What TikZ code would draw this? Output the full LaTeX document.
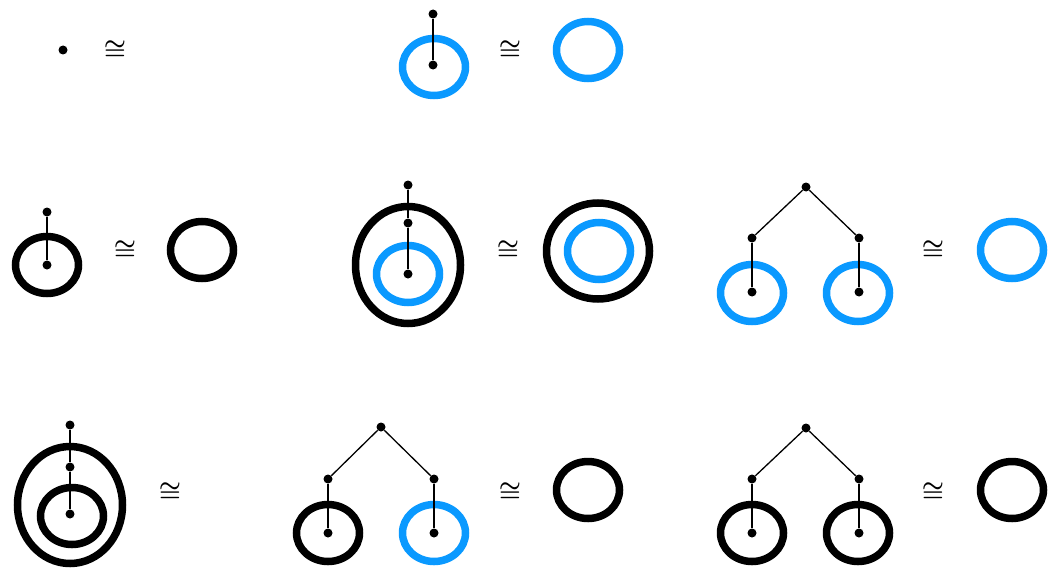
\documentclass[tikz,border=0pt]{standalone}
\usetikzlibrary{shapes.geometric}
\definecolor{Sky}{HTML}{0A99FF}
\begin{document}
\begin{tikzpicture}[x=1pt,y=-1pt,
    dot/.style={circle,fill=black,inner sep=0pt,minimum size=9pt},
    ring/.style={ellipse,draw=black,line width=7.5pt,inner sep=0pt,minimum width=63pt,minimum height=57pt},
    bigring/.style={ring,minimum width=105pt,minimum height=117pt},
    widering/.style={ring,minimum width=103pt,minimum height=96pt},
    stem/.style={line width=2pt},
    branch/.style={line width=1.3pt},
    equiv/.style={inner sep=0pt,font=\Huge\boldmath}]
  \useasboundingbox (0,0) rectangle (1051,578);
  % row 1
  \node[dot] (d1) at (63,50) {};
  \node[equiv] (e1) at (115,50) {$\cong$};
  \node[ring,draw=Sky] (r2) at (434,67) {};
  \node[dot] (t2) at (433,14) {};
  \node[dot] (c2) at (433,65) {};
  \draw[stem] (t2) -- (c2);
  \node[equiv] (e2) at (510,50) {$\cong$};
  \node[ring,draw=Sky] (s2) at (588,50) {};
  % row 2
  \node[ring] (r3) at (47,265) {};
  \node[dot] (t3) at (47,212) {};
  \node[dot] (c3) at (47,265) {};
  \draw[stem] (t3) -- (c3);
  \node[equiv] (e3) at (125,250) {$\cong$};
  \node[ring] (s3) at (202,250) {};
  \node[bigring] (o4) at (408,265) {};
  \node[ring,draw=Sky] (r4) at (408,274) {};
  \node[dot] (t4) at (408,185) {};
  \node[dot] (m4) at (408,223) {};
  \node[dot] (c4) at (408,274) {};
  \draw[stem] (t4) -- (m4) -- (c4);
  \node[equiv] (e4) at (508,250) {$\cong$};
  \node[widering] (p4) at (598,251) {};
  \node[ring,draw=Sky] (s4) at (599,251) {};
  \node[ring,draw=Sky] (la5) at (752,293) {};
  \node[ring,draw=Sky] (ra5) at (858,293) {};
  \node[dot] (t5) at (806,187) {};
  \node[dot] (l5) at (752,238) {};
  \node[dot] (r5) at (859,238) {};
  \node[dot] (lb5) at (752,292) {};
  \node[dot] (rb5) at (859,292) {};
  \draw[branch] (l5) -- (t5) -- (r5);
  \draw[stem] (l5) -- (lb5);
  \draw[stem] (r5) -- (rb5);
  \node[equiv] (e5) at (933,250) {$\cong$};
  \node[ring,draw=Sky] (s5) at (1012,250) {};
  % row 3
  \node[bigring] (o6) at (70,505) {};
  \node[ring] (r6) at (72,516) {};
  \node[dot] (t6) at (70,425) {};
  \node[dot] (m6) at (70,467) {};
  \node[dot] (c6) at (70,514) {};
  \draw[stem] (t6) -- (m6) -- (c6);
  \node[equiv] (e6) at (170,492) {$\cong$};
  \node[ring] (la7) at (328,533) {};
  \node[ring,draw=Sky] (ra7) at (434,533) {};
  \node[dot] (t7) at (381,427) {};
  \node[dot] (l7) at (328,479) {};
  \node[dot] (r7) at (434,479) {};
  \node[dot] (lb7) at (328,533) {};
  \node[dot] (rb7) at (434,533) {};
  \draw[branch] (l7) -- (t7) -- (r7);
  \draw[stem] (l7) -- (lb7);
  \draw[stem] (r7) -- (rb7);
  \node[equiv] (e7) at (510,492) {$\cong$};
  \node[ring] (s7) at (588,490) {};
  \node[ring] (la8) at (752,533) {};
  \node[ring] (ra8) at (858,533) {};
  \node[dot] (t8) at (806,428) {};
  \node[dot] (l8) at (752,479) {};
  \node[dot] (r8) at (859,479) {};
  \node[dot] (lb8) at (752,533) {};
  \node[dot] (rb8) at (859,533) {};
  \draw[branch] (l8) -- (t8) -- (r8);
  \draw[stem] (l8) -- (lb8);
  \draw[stem] (r8) -- (rb8);
  \node[equiv] (e8) at (933,492) {$\cong$};
  \node[ring] (s8) at (1012,490) {};
\end{tikzpicture}
\end{document}
